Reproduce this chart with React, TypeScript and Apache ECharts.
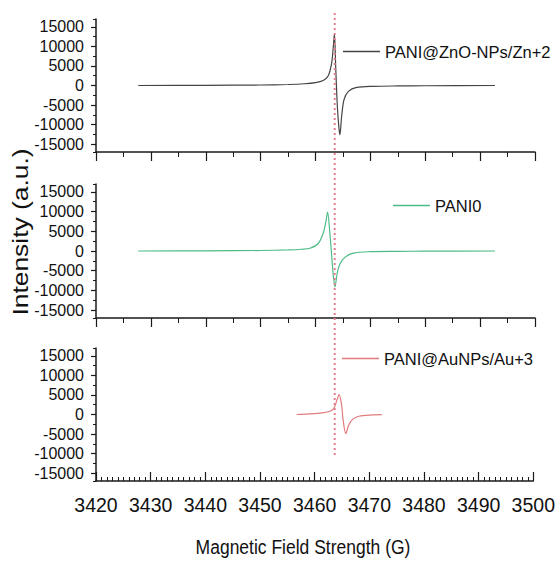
import React, { useEffect, useRef } from "react";
import * as echarts from "echarts";

// ---- data ----
const fieldZn = [3427.7, 3440, 3450, 3455, 3458, 3460, 3461.4, 3462.3, 3462.95, 3463.25, 3463.45, 3463.7, 3463.98, 3464.25, 3464.45, 3464.77, 3465.2, 3466, 3467.5, 3470.5, 3475, 3480, 3492.7];
const intensityZn = [0, 40, 130, 260, 450, 750, 1300, 2400, 5800, 10000, 13200, 4000, -5300, -10500, -12600, -7800, -3600, -1500, -500, -220, -120, -70, 0];

const fieldPani = [3427.7, 3440, 3450, 3455, 3457.5, 3459, 3460.5, 3461.4, 3461.9, 3462.2, 3462.6, 3462.9, 3463.25, 3463.55, 3463.98, 3464.47, 3465.4, 3466.9, 3469.9, 3475, 3480, 3492.7];
const intensityPani = [0, 40, 130, 270, 450, 700, 1900, 4500, 7500, 9900, 4900, -300, -6300, -9100, -5400, -3250, -1550, -550, -180, -90, -50, 0];

const fieldAu = [3456.7, 3459, 3461.4, 3462.95, 3463.55, 3464.15, 3464.47, 3464.9, 3465.25, 3465.7, 3466.2, 3466.9, 3468.1, 3470.5, 3472.3];
const intensityAu = [0, 150, 430, 900, 1650, 4000, 5100, 2700, -1900, -4900, -2800, -1300, -450, -100, -30];

const seriesNames = ["PANI@ZnO-NPs/Zn+2", "PANI0", "PANI@AuNPs/Au+3"];
const seriesColors = ["#444444", "#4dbb85", "#e27b7b"];
const yLabelValues = [-15000, -10000, -5000, 0, 5000, 10000, 15000];
const yMinorValues = [-17000, -12500, -7500, -2500, 2500, 7500, 12500, 17000];
const xMin = 3420;
const xMax = 3500;
const xStep = 10;
const yMin = -17000;
const yMax = 17000;
const markerField = 3463.5;

const SANS = "'Liberation Sans', Arial, sans-serif";

function zip(xs: number[], ys: number[]) {
  return xs.map((x, i) => [x, ys[i]]);
}

export default function App() {
  const ref = useRef<HTMLDivElement>(null);
  useEffect(() => {
    if (!ref.current) return;
    const chart = echarts.init(ref.current, undefined, { renderer: "svg" });
    const grids = [
      { left: 96, top: 19, width: 439, height: 133 },
      { left: 96, top: 184, width: 439, height: 134 },
      { left: 96, top: 348, width: 439, height: 133 },
    ];
    const axisColor = "#1a1a1a";
    const xAxes = grids.map((_, i) => ({
      type: "value",
      gridIndex: i,
      min: xMin,
      max: xMax,
      interval: xStep,
      axisLine: { show: true, onZero: false, lineStyle: { color: axisColor, width: 1.5 } },
      axisTick: { show: true, inside: i === 2, length: 9, lineStyle: { color: axisColor, width: 1.2 } },
      minorTick: { show: true, splitNumber: i === 2 ? 10 : 2, length: i === 2 ? 4 : 5, lineStyle: { color: axisColor, width: 1 } },
      axisLabel: {
        show: i === 2,
        interval: 0,
        showMinLabel: true,
        showMaxLabel: true,
        hideOverlap: false,
        formatter: (v: number) => String(v),
        fontSize: 19.5,
        fontFamily: SANS,
        color: "#111",
        margin: 14,
      },
      splitLine: { show: false },
      minorSplitLine: { show: false },
    }));
    const yAxes: any[] = [];
    grids.forEach((_, i) => {
      yAxes.push({
        type: "value",
        gridIndex: i,
        position: "left",
        min: yMin,
        max: yMax,
        axisLine: { show: true, onZero: false, lineStyle: { color: axisColor, width: 1.5 } },
        axisTick: { show: true, length: 5, customValues: yLabelValues, lineStyle: { color: axisColor, width: 1.2 } },
        axisLabel: {
          show: true,
          customValues: yLabelValues,
          formatter: (v: number) => String(v),
          fontSize: 16,
          fontFamily: SANS,
          color: "#111",
          margin: 12,
        },
        splitLine: { show: false },
      });
    });
    grids.forEach((_, i) => {
      yAxes.push({
        type: "value",
        gridIndex: i,
        position: "left",
        offset: 0,
        min: yMin,
        max: yMax,
        axisLine: { show: false },
        axisTick: { show: true, length: 3, customValues: yMinorValues, lineStyle: { color: axisColor, width: 1 } },
        axisLabel: { show: false },
        splitLine: { show: false },
      });
    });
    const dataSets = [zip(fieldZn, intensityZn), zip(fieldPani, intensityPani), zip(fieldAu, intensityAu)];
    const series = dataSets.map((d, i) => ({
      name: seriesNames[i],
      type: "line",
      xAxisIndex: i,
      yAxisIndex: i,
      data: d,
      showSymbol: false,
      smooth: 0.3,
      lineStyle: { color: seriesColors[i], width: 1.2 },
      itemStyle: { color: seriesColors[i] },
    }));
    const legendPos = [
      { left: 343, top: 43 },
      { left: 393, top: 197 },
      { left: 342, top: 350 },
    ];
    const legends = legendPos.map((p, i) => ({
      data: [seriesNames[i]],
      left: p.left,
      top: p.top,
      padding: 0,
      icon: "rect",
      itemWidth: 37,
      itemHeight: 1.5,
      textStyle: { fontSize: 16.5, fontFamily: SANS, color: "#111" },
    }));
    chart.setOption({
      animation: false,
      backgroundColor: "#ffffff",
      grid: grids,
      xAxis: xAxes,
      yAxis: yAxes,
      legend: legends,
      series,
      graphic: [
        {
          type: "text",
          x: 303,
          y: 547,
          scaleY: 1.2,
          style: { text: "Magnetic Field Strength (G)", fontSize: 17.5, fontFamily: SANS, fill: "#111", align: "center", verticalAlign: "middle" },
        },
        {
          type: "text",
          x: 20.5,
          y: 232,
          rotation: Math.PI / 2,
          scaleX: 1.2,
          style: { text: "Intensity (a.u.)", fontSize: 22, fontFamily: SANS, fill: "#111", align: "center", verticalAlign: "middle" },
        },
      ],
    });
    const px = chart.convertToPixel({ xAxisIndex: 0 }, markerField) as number;
    chart.setOption({
      graphic: [
        {},
        {},
        {
          type: "line",
          shape: { x1: px, y1: 13, x2: px, y2: 458 },
          style: { stroke: "#e57f8f", lineWidth: 2, lineDash: [2, 3] },
          z: 10,
        },
      ],
    });
    return () => chart.dispose();
  }, []);
  return <div ref={ref} style={{ position: "fixed", left: 0, top: 0, width: 558, height: 563, background: "#fff" }} />;
}
